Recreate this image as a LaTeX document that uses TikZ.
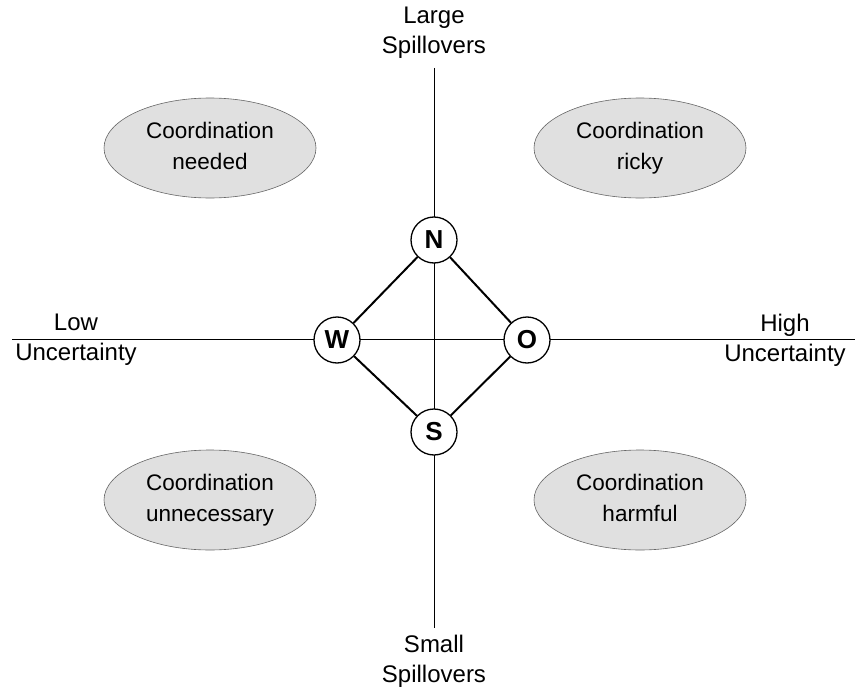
\documentclass[tikz,border=0pt]{standalone}
\usepackage{fontspec}
\setmainfont{Liberation Sans}
\usetikzlibrary{shapes.geometric}
\begin{document}
\begin{tikzpicture}[x=1pt,y=-1pt,
  lbl/.style={align=center,font=\fontsize{24}{30}\selectfont},
  region/.style={ellipse,draw=black!60,line width=0.6pt,fill=black!12,minimum width=212pt,minimum height=100pt,align=center,font=\fontsize{22.5}{31}\selectfont},
  pt/.style={circle,draw,line width=1.3pt,fill=white,minimum size=46pt,inner sep=0pt,font=\bfseries\fontsize{26}{28}\selectfont},
  axis/.style={line width=0.9pt},
  edge/.style={line width=2pt}]
\useasboundingbox (0,0) rectangle (857,693);
\coordinate (vt) at (434,68);
\coordinate (vb) at (434,628);
\coordinate (hl) at (12,339);
\coordinate (hr) at (855,339);
\draw[axis] (vt) -- (vb);
\draw[axis] (hl) -- (hr);
\node[lbl] (large) at (434,33) {Large\\Spillovers};
\node[lbl] (small) at (434,661) {Small\\Spillovers};
\node[lbl] (low) at (76,340) {Low\\Uncertainty};
\node[lbl] (high) at (785,340) {High\\Uncertainty};
\node[pt] (N) at (434,240) {N};
\node[pt] (W) at (337,340) {W};
\node[pt] (O) at (527,340) {O};
\node[pt] (S) at (434,432) {S};
\draw[edge] (N) -- (W);
\draw[edge] (N) -- (O);
\draw[edge] (S) -- (W);
\draw[edge] (S) -- (O);
\node[region] (needed) at (210,148) {Coordination\\needed\vphantom{y}};
\node[region] (ricky) at (640,148) {Coordination\\ricky\vphantom{y}};
\node[region] (unnec) at (210,500) {Coordination\\unnecessary\vphantom{y}};
\node[region] (harmful) at (640,500) {Coordination\\harmful\vphantom{y}};
\end{tikzpicture}
\end{document}
